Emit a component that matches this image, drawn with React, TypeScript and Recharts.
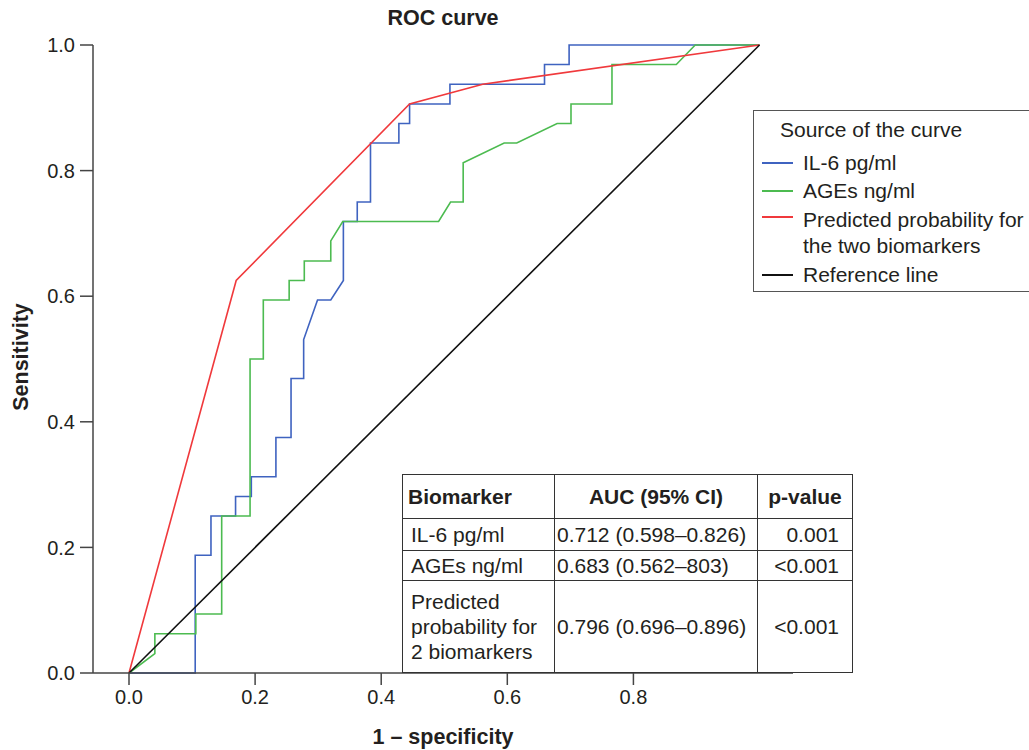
import { LineChart, Line, XAxis, YAxis, Label } from 'recharts';

// ROC coordinates (1 - specificity, sensitivity)
const IL6_FPR = [0, 0.105, 0.105, 0.130, 0.130, 0.169, 0.169, 0.194, 0.194, 0.233, 0.233, 0.257, 0.257, 0.277, 0.277, 0.299, 0.320, 0.340, 0.340, 0.362, 0.362, 0.383, 0.383, 0.428, 0.428, 0.445, 0.445, 0.509, 0.509, 0.659, 0.659, 0.698, 0.698, 1];
const IL6_TPR = [0, 0, 0.1875, 0.1875, 0.25, 0.25, 0.281, 0.281, 0.3125, 0.3125, 0.375, 0.375, 0.469, 0.469, 0.531, 0.594, 0.594, 0.625, 0.719, 0.719, 0.75, 0.75, 0.844, 0.844, 0.875, 0.875, 0.906, 0.906, 0.9375, 0.9375, 0.969, 0.969, 1, 1];

const AGES_FPR = [0, 0.041, 0.041, 0.106, 0.106, 0.147, 0.147, 0.192, 0.192, 0.213, 0.213, 0.254, 0.254, 0.278, 0.278, 0.320, 0.320, 0.339, 0.491, 0.510, 0.530, 0.530, 0.595, 0.615, 0.679, 0.701, 0.701, 0.766, 0.766, 0.868, 0.898, 1];
const AGES_TPR = [0, 0.031, 0.0625, 0.0625, 0.094, 0.094, 0.25, 0.25, 0.5, 0.5, 0.594, 0.594, 0.625, 0.625, 0.656, 0.656, 0.688, 0.719, 0.719, 0.75, 0.75, 0.8125, 0.844, 0.844, 0.875, 0.875, 0.906, 0.906, 0.969, 0.969, 1, 1];

const PRED_FPR = [0, 0.170, 0.445, 0.561, 1];
const PRED_TPR = [0, 0.625, 0.906, 0.9375, 1];

const REF_FPR = [0, 1];
const REF_TPR = [0, 1];

const X_TICKS = [0, 0.2, 0.4, 0.6, 0.8];
const Y_TICKS = [0, 0.2, 0.4, 0.6, 0.8, 1];

const TABLE_HEAD = ['Biomarker', 'AUC (95% CI)', 'p-value'];
const TABLE_NAMES = [['IL-6 pg/ml'], ['AGEs ng/ml'], ['Predicted', 'probability for', '2 biomarkers']];
const TABLE_AUC = ['0.712 (0.598–0.826)', '0.683 (0.562–803)', '0.796 (0.696–0.896)'];
const TABLE_P = ['0.001', '<0.001', '<0.001'];

const SERIES = [
  { name: 'IL-6 pg/ml', color: '#3f63c0', fpr: IL6_FPR, tpr: IL6_TPR },
  { name: 'AGEs ng/ml', color: '#4cbb50', fpr: AGES_FPR, tpr: AGES_TPR },
  { name: 'Predicted probability for the two biomarkers', color: '#f0393c', fpr: PRED_FPR, tpr: PRED_TPR },
  { name: 'Reference line', color: '#111111', fpr: REF_FPR, tpr: REF_TPR },
];

const toPoints = (fpr: number[], tpr: number[]) => fpr.map((x, i) => ({ x, y: tpr[i] }));

const FONT = '"Liberation Sans", Arial, Helvetica, sans-serif';
const INK = '#231f20';
const AXIS = '#444';
const CELL = '1px solid #333';

export default function App() {
  const rowH = [32, 30, 92];
  const legendItems = [
    { s: SERIES[0], lines: ['IL-6 pg/ml'], top: 150, lineY: 162 },
    { s: SERIES[1], lines: ['AGEs ng/ml'], top: 178, lineY: 190 },
    { s: SERIES[2], lines: ['Predicted probability for', 'the two biomarkers'], top: 207, lineY: 216 },
    { s: SERIES[3], lines: ['Reference line'], top: 262, lineY: 274 },
  ];
  return (
    <div style={{ position: 'absolute', left: 0, top: 0, width: 1029, height: 750, fontFamily: FONT, color: INK, background: '#fff', overflow: 'hidden' }}>
      <div style={{ position: 'absolute', left: 0, width: 886, top: 6, lineHeight: '24px', textAlign: 'center', fontWeight: 'bold', fontSize: 21.5 }}>ROC curve</div>

      <LineChart width={1029} height={750} margin={{ top: 45, right: 236, bottom: 27, left: 33 }}>
        <XAxis
          type="number"
          dataKey="x"
          domain={[-0.0571, 1.0531]}
          ticks={X_TICKS}
          allowDataOverflow
          tickFormatter={(v: number) => v.toFixed(1)}
          tickSize={12}
          tickMargin={5}
          height={50}
          axisLine={{ stroke: AXIS, strokeWidth: 1.5 }}
          tickLine={{ stroke: AXIS, strokeWidth: 1.5 }}
          tick={{ fill: INK, fontSize: 20, fontFamily: FONT }}
        >
          <Label
            content={({ viewBox }: any) => (
              <text x={viewBox.x + viewBox.width / 2} y={viewBox.y + viewBox.height + 21} textAnchor="middle" fontWeight="bold" fontSize={21.5} fill={INK} fontFamily={FONT}>
                1 – specificity
              </text>
            )}
          />
        </XAxis>
        <YAxis
          type="number"
          dataKey="y"
          domain={[0, 1]}
          ticks={Y_TICKS}
          tickFormatter={(v: number) => v.toFixed(1)}
          width={60}
          tickSize={13}
          tickMargin={5}
          axisLine={{ stroke: AXIS, strokeWidth: 1.5 }}
          tickLine={{ stroke: AXIS, strokeWidth: 1.5 }}
          tick={{ fill: INK, fontSize: 20, fontFamily: FONT }}
        >
          <Label
            content={({ viewBox }: any) => {
              const cx = viewBox.x - 12;
              const cy = viewBox.y + viewBox.height / 2 - 2;
              return (
                <text x={cx} y={cy} transform={`rotate(-90 ${cx} ${cy})`} textAnchor="middle" dominantBaseline="central" fontWeight="bold" fontSize={21.5} fill={INK} fontFamily={FONT}>
                  Sensitivity
                </text>
              );
            }}
          />
        </YAxis>
        {SERIES.map(s => (
          <Line
            key={s.name}
            data={toPoints(s.fpr, s.tpr)}
            dataKey="y"
            type="linear"
            stroke={s.color}
            strokeWidth={1.6}
            dot={false}
            activeDot={false}
            isAnimationActive={false}
          />
        ))}
      </LineChart>

      {/* legend */}
      <div style={{ position: 'absolute', left: 753, top: 110, width: 300, height: 182, border: '1.5px solid #555', boxSizing: 'border-box' }} />
      <div style={{ position: 'absolute', left: 780, top: 117, fontSize: 21, lineHeight: '26px' }}>Source of the curve</div>
      {legendItems.map(item => (
        <div key={item.s.name}>
          <div style={{ position: 'absolute', left: 762, top: item.lineY, width: 31, height: 2, background: item.s.color }} />
          <div style={{ position: 'absolute', left: 803, top: item.top, fontSize: 21, lineHeight: '26px', whiteSpace: 'nowrap' }}>
            {item.lines.map(l => <div key={l}>{l}</div>)}
          </div>
        </div>
      ))}

      {/* AUC table */}
      <table style={{ position: 'absolute', left: 402, top: 474, width: 450, borderCollapse: 'collapse', fontSize: 21, fontFamily: FONT, color: INK, background: '#fff', tableLayout: 'fixed' }}>
        <colgroup>
          <col style={{ width: 152 }} />
          <col style={{ width: 203 }} />
          <col style={{ width: 95 }} />
        </colgroup>
        <tbody>
          <tr style={{ height: 44 }}>
            {TABLE_HEAD.map((h, i) => (
              <td key={h} style={{ border: CELL, fontWeight: 'bold', textAlign: i === 0 ? 'left' : 'center', padding: '0 5px', whiteSpace: 'nowrap' }}>{h}</td>
            ))}
          </tr>
          {TABLE_NAMES.map((name, ri) => (
            <tr key={name.join(' ')} style={{ height: rowH[ri] }}>
              <td style={{ border: CELL, padding: '0 8px', lineHeight: '25px', whiteSpace: 'nowrap' }}>
                {name.map(l => <div key={l}>{l}</div>)}
              </td>
              <td style={{ border: CELL, padding: '0 2px', whiteSpace: 'nowrap' }}>{TABLE_AUC[ri]}</td>
              <td style={{ border: CELL, padding: '0 13px 0 0', textAlign: 'right', whiteSpace: 'nowrap' }}>{TABLE_P[ri]}</td>
            </tr>
          ))}
        </tbody>
      </table>
    </div>
  );
}
